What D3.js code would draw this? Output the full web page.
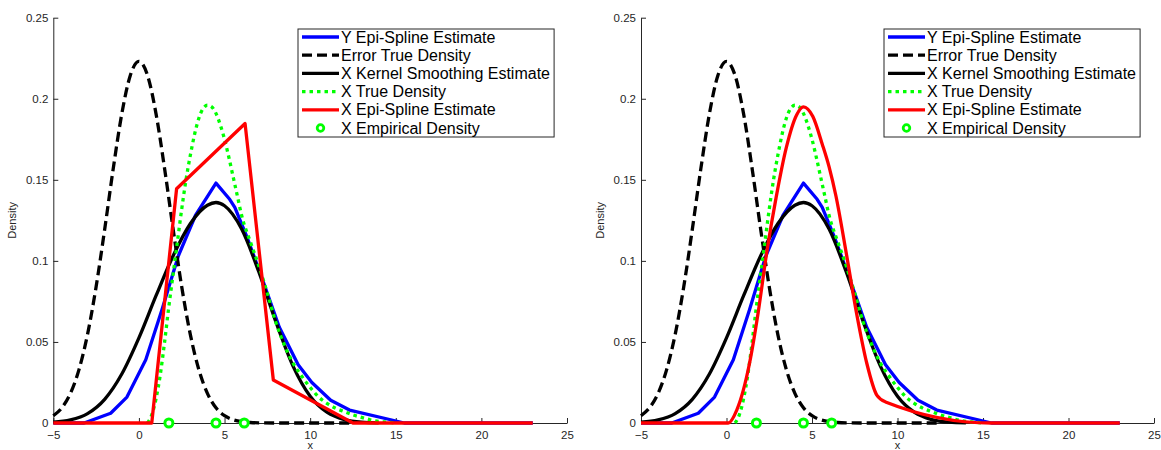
<!DOCTYPE html>
<html>
<head>
<meta charset="utf-8">
<script src="https://cdn.jsdelivr.net/npm/d3@7"></script>
<style>
  body { margin: 0; background: #fff; }
  svg { font-family: "Liberation Sans", Arial, Helvetica, sans-serif; }
  .axis path, .axis line { stroke: #262626; }
  .axis text { fill: #262626; font-size: 11.5px; }
</style>
</head>
<body>
<div id="chart"></div>
<script>
// data, [x, density]
const errorTrue = [[-5,0.0045],[-4.5,0.0094],[-4,0.0183],[-3.5,0.0329],[-3,0.0547],[-2.5,0.084],[-2,0.1194],[-1.5,0.1569],[-1,0.1907],[-0.5,0.2145],[0,0.223],[0.5,0.2145],[1,0.1907],[1.5,0.1569],[2,0.1194],[2.5,0.084],[3,0.0547],[3.5,0.0329],[4,0.0183],[4.5,0.0094],[5,0.0045],[5.5,0.002],[6,0.0008],[6.5,0.0003],[7,0.0001],[8,0],[10,0],[12.5,0]];
const kernelX = [[-5,0.0005],[-4,0.0019],[-3,0.0058],[-2,0.0146],[-1,0.0302],[0,0.0525],[1,0.0785],[2,0.1032],[3,0.1229],[4,0.1343],[4.5,0.136],[5,0.134],[6,0.1196],[7,0.0933],[8,0.0623],[9,0.0351],[10,0.0165],[11,0.0065],[12,0.0021],[13,0.0005],[14,0.0001]];
const trueX = [[0.5,0],[0.75,0.005],[1,0.015],[1.25,0.03],[1.5,0.05],[1.75,0.072],[2,0.092],[2.25,0.112],[2.5,0.132],[2.75,0.15],[3,0.165],[3.25,0.178],[3.5,0.188],[3.75,0.194],[4,0.196],[4.25,0.195],[4.5,0.191],[4.75,0.184],[5,0.175],[5.25,0.164],[5.5,0.152],[5.75,0.14],[6,0.128],[6.5,0.112],[7,0.097],[7.5,0.08],[8,0.062],[8.5,0.048],[9,0.037],[9.5,0.029],[10,0.022],[10.5,0.016],[11,0.012],[11.5,0.009],[12,0.007],[12.5,0.005],[13,0.0035],[13.5,0.002],[14,0.001],[14.5,0.0005],[15,0]];
const epiY = [[-5,0],[-3.2,0],[-1.65,0.006],[-0.7,0.016],[0.4,0.039],[1.35,0.07],[2.3,0.103],[3.3,0.128],[4.5,0.148],[5.3,0.138],[5.6,0.133],[6.3,0.115],[7.2,0.089],[8.2,0.059],[9.3,0.036],[10.1,0.025],[11.2,0.014],[12.3,0.008],[14.7,0.002],[15.5,0],[23,0]];
const epiXLeft = [[-5,0],[0.75,0],[2.2,0.1445],[6.2,0.1847],[7.85,0.0265],[12.5,0],[23,0]];
const epiXRight = [[-5,0],[0.1,0],[0.6,0.008],[1.35,0.037],[1.85,0.068],[2.35,0.105],[2.9,0.139],[3.5,0.17],[4.1,0.19],[4.5,0.195],[5.05,0.189],[5.6,0.172],[6,0.158],[6.4,0.14],[7,0.105],[7.6,0.068],[8.2,0.037],[8.8,0.017],[9.3,0.013],[15.5,0],[23,0]];
const empiricalX = [1.75, 4.5, 6.15];

const xTicks = [-5, 0, 5, 10, 15, 20, 25];
const yTicks = [0, 0.05, 0.1, 0.15, 0.2, 0.25];
const legendLabels = ["Y Epi-Spline Estimate", "Error True Density", "X Kernel Smoothing Estimate",
  "X True Density", "X Epi-Spline Estimate", "X Empirical Density"];

const [W, H] = [1161, 450];
const svg = d3.select("#chart").append("svg").attr("width", W).attr("height", H);

const panels = [
  { left: 53.3, right: 567, epiX: epiXLeft, epiCurve: d3.curveLinear, legendX: 298 },
  { left: 641, right: 1154, epiX: epiXRight, epiCurve: d3.curveMonotoneX, legendX: 884 }
];
const [plotTop, plotBottom] = [17.7, 423];

panels.forEach((p) => {
  const g = svg.append("g");
  const x = d3.scaleLinear().domain([-5, 25]).range([p.left, p.right]);
  const y = d3.scaleLinear().domain([0, 0.25]).range([plotBottom, plotTop]);

  // axes, ticks pointing inward like matlab
  g.append("g").attr("class", "axis")
    .attr("transform", `translate(0, ${plotBottom})`)
    .call(d3.axisBottom(x).tickValues(xTicks).tickSizeInner(-5).tickSizeOuter(0).tickPadding(8))
    .call((a) => a.selectAll("text").attr("dy", "0.71em"));
  g.append("g").attr("class", "axis")
    .attr("transform", `translate(${p.left}, 0)`)
    .call(d3.axisLeft(y).tickValues(yTicks).tickFormat((d) => d3.format("")(+d.toFixed(2))).tickSizeInner(-5).tickSizeOuter(0).tickPadding(5));

  g.append("text").attr("x", (p.left + p.right) / 2).attr("y", 449)
    .attr("text-anchor", "middle").attr("font-size", 11).attr("fill", "#262626").text("x");
  g.append("text").attr("transform", `translate(${p.left - 37}, ${(plotTop + plotBottom) / 2}) rotate(-90)`)
    .attr("text-anchor", "middle").attr("font-size", 11).attr("fill", "#262626").text("Density");

  const line = (curve) => d3.line().x((d) => x(d[0])).y((d) => y(d[1])).curve(curve);
  const series = [
    { data: epiY, color: "#0000ff", dash: null, curve: d3.curveLinear },
    { data: errorTrue, color: "#000", dash: "10,5", curve: d3.curveMonotoneX },
    { data: kernelX, color: "#000", dash: null, curve: d3.curveMonotoneX },
    { data: trueX, color: "#00ff00", dash: "3.5,4", curve: d3.curveMonotoneX },
    { data: p.epiX, color: "#ff0000", dash: null, curve: p.epiCurve }
  ];
  series.forEach((s) => {
    g.append("path").attr("d", line(s.curve)(s.data))
      .attr("fill", "none").attr("stroke", s.color).attr("stroke-width", 3.3)
      .attr("stroke-dasharray", s.dash).attr("stroke-linejoin", "round");
  });

  g.selectAll("circle.emp").data(empiricalX).enter().append("circle")
    .attr("class", "emp").attr("cx", (d) => x(d)).attr("cy", y(0)).attr("r", 4)
    .attr("fill", "#fff").attr("stroke", "#00ff00").attr("stroke-width", 3);

  // legend
  const lg = g.append("g").attr("transform", `translate(${p.legendX}, 29)`);
  const box = lg.append("rect").attr("fill", "#fff").attr("stroke", "#262626").attr("stroke-width", 1);
  const rowY = (i) => 8 + i * 18.2;
  legendLabels.forEach((label, i) => {
    if (i < 5) {
      const s = series[i];
      lg.append("line").attr("x1", 4).attr("x2", 41).attr("y1", rowY(i)).attr("y2", rowY(i))
        .attr("stroke", s.color).attr("stroke-width", 3.3).attr("stroke-dasharray", s.dash);
    } else {
      lg.append("circle").attr("cx", 22.5).attr("cy", rowY(i)).attr("r", 3.3)
        .attr("fill", "#fff").attr("stroke", "#00ff00").attr("stroke-width", 2.8);
    }
    lg.append("text").attr("x", 43).attr("y", rowY(i)).attr("dy", "0.35em")
      .attr("font-size", 16).attr("fill", "#000").text(label);
  });
  const bb = lg.node().getBBox();
  box.attr("x", 0).attr("y", 0).attr("width", bb.width + 8).attr("height", 108);
});
</script>
</body>
</html>
